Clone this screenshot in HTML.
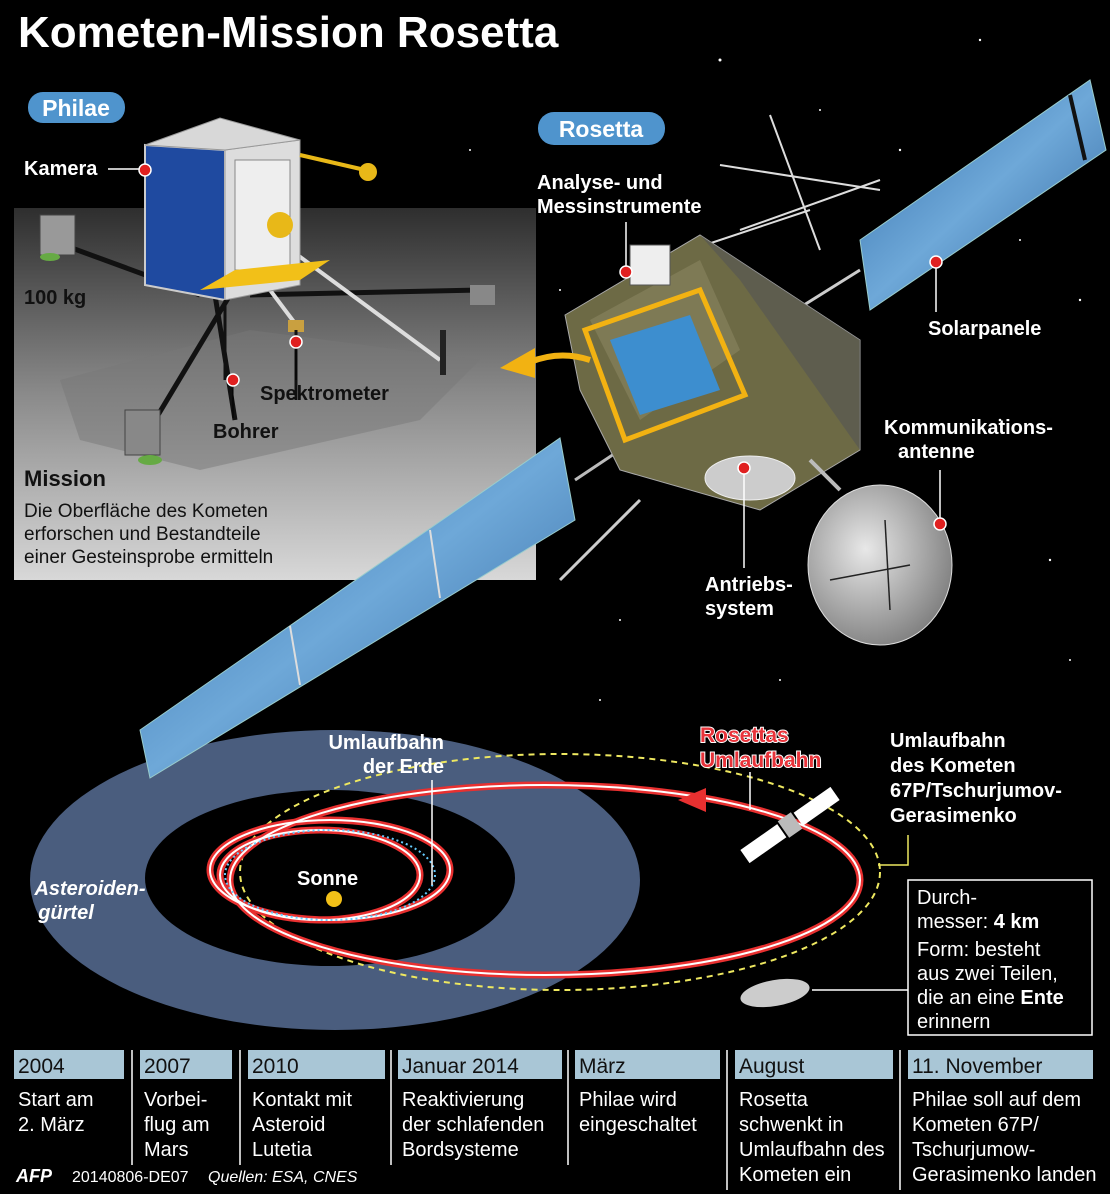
<!DOCTYPE html>
<html><head><meta charset="utf-8"><style>
html,body{margin:0;padding:0;background:#000;}
svg{display:block}
text{font-family:"Liberation Sans",sans-serif;}
.w{fill:#fff;font-weight:bold;font-size:20px}
.b{fill:#111;font-weight:bold;font-size:20px}
.n{fill:#111;font-size:19px}
.t{fill:#fff;font-size:20px}
.h{fill:#111;font-size:21px}
</style></head><body>
<svg width="1110" height="1194" viewBox="0 0 1110 1194" xmlns="http://www.w3.org/2000/svg">
<defs>
<linearGradient id="gb" x1="0" y1="0" x2="0" y2="1"><stop offset="0" stop-color="#2e2e2e"/><stop offset="0.5" stop-color="#8a8a8a"/><stop offset="1" stop-color="#d8d8d8"/></linearGradient>
<linearGradient id="sp" x1="0" y1="0" x2="1" y2="1"><stop offset="0" stop-color="#2f6aa8"/><stop offset="0.5" stop-color="#6ea8d8"/><stop offset="1" stop-color="#2a5e98"/></linearGradient>
<radialGradient id="dish" cx="0.4" cy="0.4" r="0.7"><stop offset="0" stop-color="#e8e8e8"/><stop offset="1" stop-color="#777"/></radialGradient>
</defs>
<rect width="1110" height="1194" fill="#000"/>
<g fill="#fff"><circle cx="720" cy="60" r="1.5"/><circle cx="980" cy="40" r="1.2"/><circle cx="900" cy="150" r="1.2"/><circle cx="560" cy="290" r="1"/><circle cx="700" cy="400" r="1"/><circle cx="1000" cy="420" r="1.3"/><circle cx="1080" cy="300" r="1.2"/><circle cx="620" cy="620" r="1"/><circle cx="1050" cy="560" r="1.2"/><circle cx="780" cy="680" r="1"/><circle cx="1070" cy="660" r="1"/><circle cx="600" cy="700" r="1"/><circle cx="820" cy="110" r="1"/><circle cx="470" cy="150" r="1"/><circle cx="1020" cy="240" r="1"/></g>
<text x="18" y="47" fill="#fff" font-weight="bold" font-size="44">Kometen-Mission Rosetta</text>

<rect x="14" y="208" width="522" height="372" fill="url(#gb)"/>
<path d="M60 380 L250 330 L480 360 L420 420 L200 470 L80 440Z" fill="#777" opacity="0.5"/>
<g stroke="#111" stroke-width="5" fill="none"><path d="M200 295 L50 240"/><path d="M230 295 L140 445"/><path d="M250 295 L480 290"/><path d="M215 295 L235 420"/></g>
<g stroke="#ddd" stroke-width="4"><path d="M250 220 L440 360"/><path d="M240 250 L300 330"/></g>
<rect x="40" y="215" width="35" height="40" fill="#999" stroke="#444"/>
<ellipse cx="50" cy="257" rx="10" ry="4" fill="#6a4"/>
<rect x="125" y="410" width="35" height="45" fill="#888" stroke="#444"/>
<ellipse cx="150" cy="460" rx="12" ry="5" fill="#6a4"/>
<rect x="470" y="285" width="25" height="20" fill="#888"/>
<rect x="440" y="330" width="6" height="45" fill="#222"/>
<polygon points="145,145 145,285 225,300 225,150" fill="#1f4aa0" stroke="#ccc" stroke-width="2"/>
<polygon points="225,150 225,300 300,285 300,140" fill="#ddd" stroke="#999"/>
<polygon points="145,145 225,150 300,140 220,118" fill="#d8d8d8" stroke="#999"/>
<rect x="235" y="160" width="55" height="110" fill="#eee" stroke="#888"/>
<polygon points="200,290 300,280 330,260 235,270" fill="#f2c018"/>
<circle cx="280" cy="225" r="13" fill="#e8b818"/>
<path d="M300 155 L365 170" stroke="#e8b818" stroke-width="4"/>
<circle cx="368" cy="172" r="9" fill="#e8b818"/>
<rect x="288" y="320" width="16" height="12" fill="#c9a040"/>
<path d="M225 300 L225 380 M296 330 L296 400" stroke="#111" stroke-width="3"/>
<rect x="28" y="92" width="97" height="31" rx="15" fill="#4f94cd"/>
<text x="76" y="116" text-anchor="middle" fill="#fff" font-weight="bold" font-size="23">Philae</text>
<text x="24" y="175" class="w">Kamera</text>
<line x1="108" y1="169" x2="145" y2="169" stroke="#fff" stroke-width="1.5"/>
<circle cx="145" cy="170" r="6" fill="#e02020" stroke="#fff" stroke-width="1.5"/>
<text x="24" y="304" class="b">100 kg</text>
<text x="260" y="400" class="b">Spektrometer</text>
<line x1="296" y1="345" x2="296" y2="380" stroke="#000"/>
<circle cx="296" cy="342" r="6" fill="#e02020" stroke="#fff" stroke-width="1.5"/>
<text x="213" y="438" class="b">Bohrer</text>
<line x1="233" y1="385" x2="233" y2="418" stroke="#000"/>
<circle cx="233" cy="380" r="6" fill="#e02020" stroke="#fff" stroke-width="1.5"/>
<text x="24" y="486" fill="#111" font-weight="bold" font-size="22">Mission</text>
<text x="24" y="517" class="n">Die Oberfläche des Kometen</text>
<text x="24" y="540" class="n">erforschen und Bestandteile</text>
<text x="24" y="563" class="n">einer Gesteinsprobe ermitteln</text>

<!-- Orbits background first -->
<ellipse cx="335" cy="880" rx="305" ry="150" fill="#4a5d7e"/>
<ellipse cx="330" cy="878" rx="185" ry="88" fill="#000"/>

<!-- Lower solar panel -->
<polygon points="140,730 560,438 575,520 150,778" fill="url(#sp)" stroke="#9cc" stroke-width="1"/>
<g stroke="#ddd" stroke-width="2"><line x1="290" y1="626" x2="300" y2="685"/><line x1="430" y1="530" x2="440" y2="598"/></g>
<line x1="575" y1="480" x2="620" y2="450" stroke="#bbb" stroke-width="3"/>
<polygon points="860,240 1090,80 1106,150 870,310" fill="url(#sp)" stroke="#9cc"/>
<line x1="1070" y1="95" x2="1085" y2="160" stroke="#111" stroke-width="4"/>
<line x1="780" y1="320" x2="860" y2="270" stroke="#ccc" stroke-width="3"/>
<g stroke="#ddd" stroke-width="2"><line x1="720" y1="165" x2="880" y2="190"/><line x1="770" y1="115" x2="820" y2="250"/><line x1="740" y1="230" x2="880" y2="180"/><line x1="810" y1="210" x2="690" y2="250"/></g>
<polygon points="565,315 700,235 860,340 860,450 760,510 620,470 580,390" fill="#6d6a45" stroke="#aaa"/>
<polygon points="700,235 860,340 860,450 740,280" fill="#555" opacity="0.6"/>
<polygon points="590,320 700,260 740,350 640,420" fill="#8a8660" opacity="0.6"/>
<rect x="630" y="245" width="40" height="40" fill="#eee" stroke="#555"/>
<polygon points="585,330 700,290 745,395 625,440" fill="none" stroke="#f2b212" stroke-width="5"/>
<polygon points="610,340 690,315 720,390 640,415" fill="#3d8ecf"/>
<path d="M590 360 Q560 350 530 362" stroke="#f2b212" stroke-width="6" fill="none"/>
<polygon points="500,368 535,348 535,378" fill="#f2b212"/>
<ellipse cx="750" cy="478" rx="45" ry="22" fill="#ccc" stroke="#eee"/>
<line x1="560" y1="580" x2="640" y2="500" stroke="#ccc" stroke-width="3"/>
<ellipse cx="880" cy="565" rx="72" ry="80" fill="url(#dish)" stroke="#ddd"/>
<g stroke="#222" stroke-width="1.5"><line x1="830" y1="580" x2="910" y2="565"/><line x1="885" y1="520" x2="890" y2="610"/></g>
<line x1="840" y1="490" x2="810" y2="460" stroke="#bbb" stroke-width="4"/>
<rect x="538" y="112" width="127" height="33" rx="16" fill="#4f94cd"/>
<text x="601" y="137" text-anchor="middle" fill="#fff" font-weight="bold" font-size="23">Rosetta</text>
<text x="537" y="189" class="w">Analyse- und</text>
<text x="537" y="213" class="w">Messinstrumente</text>
<line x1="626" y1="222" x2="626" y2="272" stroke="#fff" stroke-width="1.5"/>
<circle cx="626" cy="272" r="6" fill="#e02020" stroke="#fff" stroke-width="1.5"/>
<text x="928" y="335" class="w">Solarpanele</text>
<line x1="936" y1="262" x2="936" y2="312" stroke="#fff" stroke-width="1.5"/>
<circle cx="936" cy="262" r="6" fill="#e02020" stroke="#fff" stroke-width="1.5"/>
<text x="884" y="434" class="w">Kommunikations-</text>
<text x="898" y="458" class="w">antenne</text>
<line x1="940" y1="470" x2="940" y2="524" stroke="#fff" stroke-width="1.5"/>
<circle cx="940" cy="524" r="6" fill="#e02020" stroke="#fff" stroke-width="1.5"/>
<text x="705" y="591" class="w">Antriebs-</text>
<text x="705" y="615" class="w">system</text>
<line x1="744" y1="470" x2="744" y2="568" stroke="#fff" stroke-width="1.5"/>
<circle cx="744" cy="468" r="6" fill="#e02020" stroke="#fff" stroke-width="1.5"/>

<ellipse cx="560" cy="872" rx="320" ry="118" fill="none" stroke="#eee860" stroke-width="2" stroke-dasharray="6,5"/>
<g fill="none" stroke="#e83030" stroke-width="7"><ellipse cx="330" cy="870" rx="120" ry="50"/><ellipse cx="320" cy="875" rx="100" ry="45"/><ellipse cx="545" cy="880" rx="315" ry="95"/></g>
<g fill="none" stroke="#fff" stroke-width="2"><ellipse cx="330" cy="870" rx="120" ry="50"/><ellipse cx="320" cy="875" rx="100" ry="45"/><ellipse cx="545" cy="880" rx="315" ry="95"/></g>
<ellipse cx="330" cy="875" rx="105" ry="45" fill="none" stroke="#6cf" stroke-width="2" stroke-dasharray="2,3"/>
<polygon points="678,800 706,788 706,812" fill="#e83030"/>
<circle cx="334" cy="899" r="8" fill="#f2c018"/>
<text x="297" y="885" class="w">Sonne</text>
<text x="444" y="749" class="w" text-anchor="end">Umlaufbahn</text>
<text x="444" y="773" class="w" text-anchor="end">der Erde</text>
<line x1="432" y1="780" x2="432" y2="885" stroke="#fff" stroke-width="1.5"/>
<text x="90" y="895" fill="#fff" font-weight="bold" font-style="italic" font-size="20" text-anchor="middle">Asteroiden-</text>
<text x="66" y="919" fill="#fff" font-weight="bold" font-style="italic" font-size="20" text-anchor="middle">gürtel</text>
<text x="700" y="742" fill="#e8333a" font-weight="bold" font-size="21" stroke="#fff" stroke-width="2" paint-order="stroke">Rosettas</text>
<text x="700" y="767" fill="#e8333a" font-weight="bold" font-size="21" stroke="#fff" stroke-width="2" paint-order="stroke">Umlaufbahn</text>
<line x1="750" y1="772" x2="750" y2="810" stroke="#fff" stroke-width="1.5"/>
<g transform="translate(790,825) rotate(-35)"><rect x="-55" y="-8" width="45" height="16" fill="#fff"/><rect x="10" y="-8" width="45" height="16" fill="#fff"/><rect x="-8" y="-10" width="16" height="20" fill="#bbb"/></g>
<text x="890" y="747" class="w" font-size="21">Umlaufbahn</text>
<text x="890" y="772" class="w" font-size="21">des Kometen</text>
<text x="890" y="797" class="w" font-size="21">67P/Tschurjumov-</text>
<text x="890" y="822" class="w" font-size="21">Gerasimenko</text>
<polyline points="908,835 908,865 878,865" fill="none" stroke="#eee860" stroke-width="1.5"/>
<ellipse cx="775" cy="993" rx="35" ry="13" fill="#ccc" transform="rotate(-10 775 993)"/>
<line x1="812" y1="990" x2="908" y2="990" stroke="#fff" stroke-width="1.5"/>
<rect x="908" y="880" width="184" height="155" fill="#000" stroke="#fff" stroke-width="1.5"/>
<text x="917" y="904" class="t">Durch-</text>
<text x="917" y="928" class="t">messer: <tspan font-weight="bold">4 km</tspan></text>
<text x="917" y="956" class="t">Form: besteht</text>
<text x="917" y="980" class="t">aus zwei Teilen,</text>
<text x="917" y="1004" class="t">die an eine <tspan font-weight="bold">Ente</tspan></text>
<text x="917" y="1028" class="t">erinnern</text>

<g fill="#a9c6d6">
<rect x="14" y="1050" width="110" height="29"/><rect x="140" y="1050" width="92" height="29"/><rect x="248" y="1050" width="137" height="29"/><rect x="398" y="1050" width="164" height="29"/><rect x="575" y="1050" width="145" height="29"/><rect x="735" y="1050" width="158" height="29"/><rect x="908" y="1050" width="185" height="29"/>
</g>
<text x="18" y="1073" class="h">2004</text><text x="144" y="1073" class="h">2007</text><text x="252" y="1073" class="h">2010</text><text x="402" y="1073" class="h">Januar 2014</text><text x="579" y="1073" class="h">März</text><text x="739" y="1073" class="h">August</text><text x="912" y="1073" class="h">11. November</text>
<text x="18" y="1106" class="t">Start am</text><text x="18" y="1131" class="t">2. März</text>
<text x="144" y="1106" class="t">Vorbei-</text><text x="144" y="1131" class="t">flug am</text><text x="144" y="1156" class="t">Mars</text>
<text x="252" y="1106" class="t">Kontakt mit</text><text x="252" y="1131" class="t">Asteroid</text><text x="252" y="1156" class="t">Lutetia</text>
<text x="402" y="1106" class="t">Reaktivierung</text><text x="402" y="1131" class="t">der schlafenden</text><text x="402" y="1156" class="t">Bordsysteme</text>
<text x="579" y="1106" class="t">Philae wird</text><text x="579" y="1131" class="t">eingeschaltet</text>
<text x="739" y="1106" class="t">Rosetta</text><text x="739" y="1131" class="t">schwenkt in</text><text x="739" y="1156" class="t">Umlaufbahn des</text><text x="739" y="1181" class="t">Kometen ein</text>
<text x="912" y="1106" class="t">Philae soll auf dem</text><text x="912" y="1131" class="t">Kometen 67P/</text><text x="912" y="1156" class="t">Tschurjumow-</text><text x="912" y="1181" class="t">Gerasimenko landen</text>
<g stroke="#fff" stroke-width="1.5"><line x1="132" y1="1050" x2="132" y2="1165"/><line x1="240" y1="1050" x2="240" y2="1165"/><line x1="391" y1="1050" x2="391" y2="1165"/><line x1="568" y1="1050" x2="568" y2="1165"/><line x1="727" y1="1050" x2="727" y2="1190"/><line x1="900" y1="1050" x2="900" y2="1190"/></g>
<text x="16" y="1182" fill="#fff" font-weight="bold" font-style="italic" font-size="18">AFP</text>
<text x="72" y="1182" fill="#fff" font-size="16">20140806-DE07</text>
<text x="208" y="1182" fill="#fff" font-size="16" font-style="italic">Quellen: ESA, CNES</text>
</svg>
</body></html>
